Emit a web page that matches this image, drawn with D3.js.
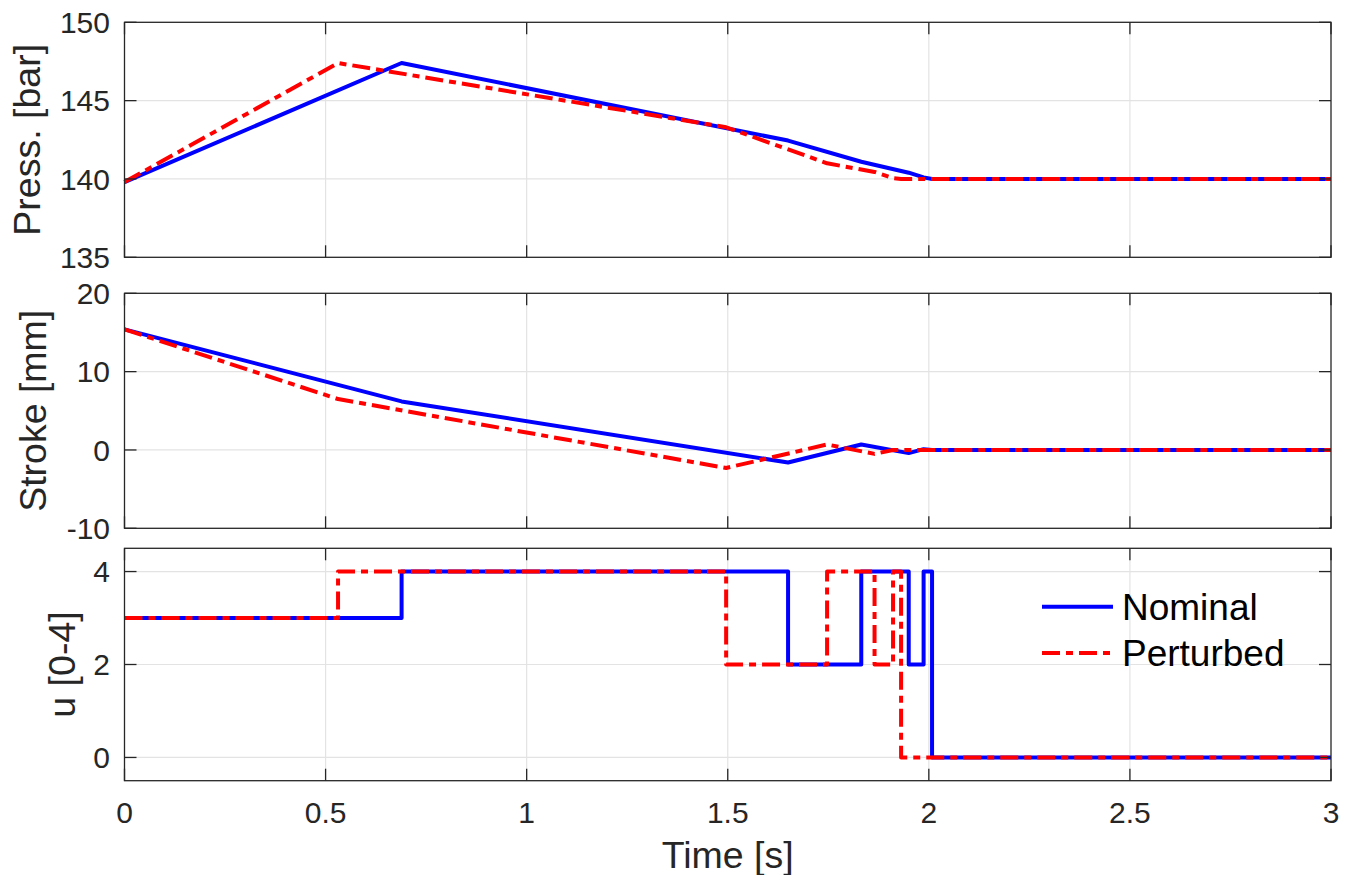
<!DOCTYPE html>
<html><head><meta charset="utf-8">
<script src="https://cdn.jsdelivr.net/npm/d3@7"></script>
<style>body{margin:0;background:#fff}svg{display:block}</style>
</head><body>
<svg id="chart" width="1350" height="875"></svg>
<script>
// ---- data ----
const nomPT = [0, 0.689, 1.65, 1.832, 1.95, 1.987, 2.008, 3];
const nomP  = [139.8, 147.4, 142.45, 141.1, 140.4, 140.1, 140.0, 140.0];
const perPT = [0, 0.531, 1.496, 1.747, 1.865, 1.911, 1.931, 3];
const perP  = [139.8, 147.4, 143.3, 141.0, 140.45, 140.05, 140.0, 140.0];

const nomST = [0, 0.689, 1.65, 1.832, 1.95, 1.987, 2.008, 3];
const nomS  = [15.4, 6.2, -1.6, 0.7, -0.4, 0.1, 0.0, 0.0];
const perST = [0, 0.531, 1.496, 1.747, 1.865, 1.911, 1.931, 3];
const perS  = [15.4, 6.5, -2.3, 0.7, -0.5, 0.0, 0.0, 0.0];

const nomUT = [0, 0.689, 1.65, 1.832, 1.95, 1.987, 2.008, 3];
const nomU  = [3, 4, 2, 4, 2, 4, 0, 0];
const perUT = [0, 0.531, 1.496, 1.747, 1.865, 1.911, 1.931, 3];
const perU  = [3, 4, 2, 4, 2, 4, 0, 0];

const xTicks = [0, 0.5, 1, 1.5, 2, 2.5, 3];
const pTicks = [135, 140, 145, 150];
const sTicks = [-10, 0, 10, 20];
const uTicks = [0, 2, 4];
const seriesNames = ["Nominal", "Perturbed"];

// ---- layout ----
const svg = d3.select("#chart");
const FONT = "'Liberation Sans', Arial, Helvetica, sans-serif";
const left = 124.5, right = 1331;
const x = d3.scaleLinear().domain([0, 3]).range([left, right]);
const panels = [
  {top: 22.3, bottom: 257.3, domain: [135, 150], ticks: pTicks, label: "Press. [bar]", labelX: 40,
   series: [{t: nomPT, v: nomP}, {t: perPT, v: perP}], step: false},
  {top: 293.3, bottom: 528.3, domain: [-10, 20], ticks: sTicks, label: "Stroke [mm]", labelX: 46,
   series: [{t: nomST, v: nomS}, {t: perST, v: perS}], step: false},
  {top: 548.3, bottom: 780.7, domain: [-0.5, 4.5], ticks: uTicks, label: "u [0-4]", labelX: 75,
   series: [{t: nomUT, v: nomU}, {t: perUT, v: perU}], step: true}
];
const colors = ["#0000ff", "#ff0000"];
const dashes = [null, "18,6,7,6"];
const axisColor = "#262626";
const gridColor = "#e3e3e3";
const tickLen = 12;
const tickFont = 30;

panels.forEach((p, pi) => {
  const y = d3.scaleLinear().domain(p.domain).range([p.bottom, p.top]);
  const g = svg.append("g");
  // grid
  g.selectAll(".gx").data(xTicks.filter(d => d > 0 && d < 3)).enter().append("line")
    .attr("x1", d => x(d)).attr("x2", d => x(d)).attr("y1", p.top).attr("y2", p.bottom)
    .attr("stroke", gridColor).attr("stroke-width", 1.2);
  g.selectAll(".gy").data(p.ticks.filter(d => d > p.domain[0] && d < p.domain[1])).enter().append("line")
    .attr("x1", left).attr("x2", right).attr("y1", d => y(d)).attr("y2", d => y(d))
    .attr("stroke", gridColor).attr("stroke-width", 1.2);

  // series
  const line = d3.line().x(d => x(d[0])).y(d => y(d[1]))
    .curve(p.step ? d3.curveStepAfter : d3.curveLinear);
  p.series.forEach((s, si) => {
    const pts = s.t.map((t, i) => [t, s.v[i]]);
    const path = g.append("path").datum(pts).attr("d", line)
      .attr("fill", "none").attr("stroke", colors[si]).attr("stroke-width", 4)
      .attr("stroke-linejoin", "round");
    if (dashes[si]) path.attr("stroke-dasharray", dashes[si]);
  });

  // box
  g.append("rect").attr("x", left).attr("y", p.top).attr("width", right - left).attr("height", p.bottom - p.top)
    .attr("fill", "none").attr("stroke", axisColor).attr("stroke-width", 1.3);

  // y ticks (inward, both sides)
  p.ticks.forEach(d => {
    g.append("line").attr("x1", left).attr("x2", left + tickLen).attr("y1", y(d)).attr("y2", y(d))
      .attr("stroke", axisColor).attr("stroke-width", 1.3);
    g.append("line").attr("x1", right).attr("x2", right - tickLen).attr("y1", y(d)).attr("y2", y(d))
      .attr("stroke", axisColor).attr("stroke-width", 1.3);
    g.append("text").attr("x", 110).attr("y", y(d)).attr("dy", "0.36em")
      .attr("text-anchor", "end").attr("font-family", FONT).attr("font-size", tickFont)
      .attr("fill", axisColor).text(d);
  });
  // x ticks (inward, top and bottom)
  xTicks.forEach(d => {
    g.append("line").attr("x1", x(d)).attr("x2", x(d)).attr("y1", p.bottom).attr("y2", p.bottom - tickLen)
      .attr("stroke", axisColor).attr("stroke-width", 1.3);
    g.append("line").attr("x1", x(d)).attr("x2", x(d)).attr("y1", p.top).attr("y2", p.top + tickLen)
      .attr("stroke", axisColor).attr("stroke-width", 1.3);
  });
  if (pi === 2) {
    xTicks.forEach(d => {
      g.append("text").attr("x", x(d)).attr("y", 823).attr("text-anchor", "middle")
        .attr("font-family", FONT).attr("font-size", tickFont).attr("fill", axisColor).text(d);
    });
    g.append("text").attr("x", (left + right) / 2).attr("y", 868).attr("text-anchor", "middle")
      .attr("font-family", FONT).attr("font-size", 37.5).attr("fill", axisColor).text("Time [s]");
  }
  // y label
  g.append("text").attr("transform", `translate(${p.labelX},${(p.top + p.bottom) / 2}) rotate(-90)`)
    .attr("text-anchor", "middle").attr("font-family", FONT).attr("font-size", 37.5)
    .attr("fill", axisColor).text(p.label);
});

// legend
const legY = [606.7, 653];
seriesNames.forEach((name, i) => {
  const l = svg.append("line").attr("x1", 1042).attr("x2", 1113).attr("y1", legY[i]).attr("y2", legY[i])
    .attr("stroke", colors[i]).attr("stroke-width", 4);
  if (dashes[i]) l.attr("stroke-dasharray", dashes[i]);
  svg.append("text").attr("x", 1122).attr("y", legY[i]).attr("dy", "0.36em")
    .attr("font-family", FONT).attr("font-size", 37).attr("fill", "#000").text(name);
});
</script>
</body></html>
